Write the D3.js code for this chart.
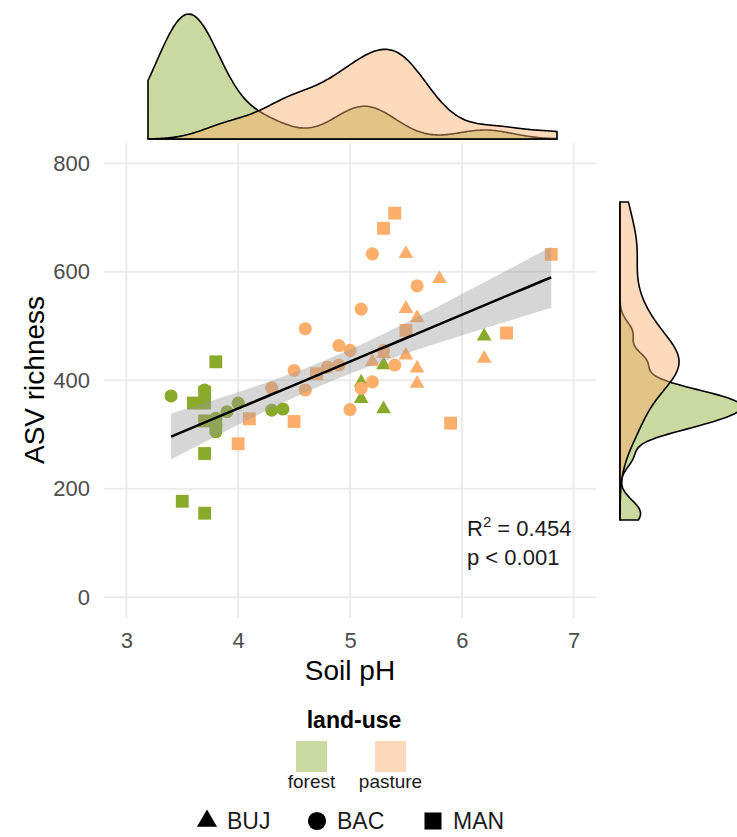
<!DOCTYPE html>
<html>
<head>
<meta charset="utf-8">
<script src="https://cdn.jsdelivr.net/npm/d3@7"></script>
<style>
  body { margin: 0; background: #fff; }
  svg text { font-family: "Liberation Sans", Arial, sans-serif; }
</style>
</head>
<body>
<div id="chart"></div>
<script>
// data: soil pH, ASV richness, land-use, site
var ph = [3.4, 3.8, 3.9, 4.0, 4.3, 4.4, 3.7, 3.8, 3.8,
          5.1, 5.1, 5.3, 5.3, 6.2,
          3.8, 3.6, 3.7, 3.7, 3.7, 3.8, 3.7, 3.5, 3.7,
          4.1, 4.0, 4.5, 4.7, 5.4, 5.3, 6.8, 5.5, 6.4, 5.9,
          4.3, 4.5, 4.6, 4.6, 4.8, 4.9, 4.9, 5.0, 5.0, 5.1, 5.2, 5.6, 5.3, 5.4, 5.2, 5.1,
          5.5, 5.8, 5.5, 5.6, 6.2, 5.2, 5.5, 5.6, 5.6, 5.3];
var richness = [371, 305, 342, 358, 345, 347, 382, 330, 318,
                396, 366, 428, 347, 481,
                434, 358, 378, 358, 325, 320, 265, 177, 155,
                329, 283, 324, 412, 708, 680, 632, 492, 487, 321,
                386, 418, 382, 495, 424, 428, 464, 455, 346, 531, 633, 574, 455, 428, 397, 385,
                633, 587, 532, 515, 440, 434, 446, 422, 394, 449];
var landuse = ["forest","forest","forest","forest","forest","forest","forest","forest","forest",
               "forest","forest","forest","forest","forest",
               "forest","forest","forest","forest","forest","forest","forest","forest","forest",
               "pasture","pasture","pasture","pasture","pasture","pasture","pasture","pasture","pasture","pasture",
               "pasture","pasture","pasture","pasture","pasture","pasture","pasture","pasture","pasture","pasture","pasture","pasture","pasture","pasture","pasture","pasture",
               "pasture","pasture","pasture","pasture","pasture","pasture","pasture","pasture","pasture","pasture"];
var site = ["BAC","BAC","BAC","BAC","BAC","BAC","BAC","BAC","BAC",
            "BUJ","BUJ","BUJ","BUJ","BUJ",
            "MAN","MAN","MAN","MAN","MAN","MAN","MAN","MAN","MAN",
            "MAN","MAN","MAN","MAN","MAN","MAN","MAN","MAN","MAN","MAN",
            "BAC","BAC","BAC","BAC","BAC","BAC","BAC","BAC","BAC","BAC","BAC","BAC","BAC","BAC","BAC","BAC",
            "BUJ","BUJ","BUJ","BUJ","BUJ","BUJ","BUJ","BUJ","BUJ","BUJ"];

var groups = ["forest", "pasture"];
var sites = ["BUJ", "BAC", "MAN"];
var xTicks = [3, 4, 5, 6, 7];
var yTicks = [0, 200, 400, 600, 800];

var pointColor = {forest: "#8aab2a", pasture: "#fdae6b"};
var densFill = {forest: "#8aab2a", pasture: "#fdae6b"};

var width = 737, height = 837;
var svg = d3.select("#chart").append("svg")
    .attr("width", width)
    .attr("height", height);

var points = ph.map(function(d, i){
    return {x: d, y: richness[i], g: landuse[i], s: site[i]};
});

// main panel scales
var x = d3.scaleLinear().domain([2.8, 7.2]).range([104, 596]);
var y = d3.scaleLinear().domain([-40, 840]).range([619, 141.5]);

// grid
svg.append("g").selectAll("line")
   .data(xTicks).join("line")
   .attr("x1", d => x(d)).attr("x2", d => x(d))
   .attr("y1", 143).attr("y2", 618)
   .attr("stroke", "#ebebeb").attr("stroke-width", 2);
svg.append("g").selectAll("line")
   .data(yTicks).join("line")
   .attr("x1", 104).attr("x2", 596)
   .attr("y1", d => y(d)).attr("y2", d => y(d))
   .attr("stroke", "#ebebeb").attr("stroke-width", 2);

// axes, no domain line
var xAxis = svg.append("g")
   .attr("transform", "translate(0,618)")
   .call(d3.axisBottom(x).tickValues(xTicks).tickSize(0).tickPadding(14).tickFormat(d3.format("d")));
var yAxis = svg.append("g")
   .attr("transform", "translate(104,0)")
   .call(d3.axisLeft(y).tickValues(yTicks).tickSize(0).tickPadding(14).tickFormat(d3.format("d")));
[xAxis, yAxis].forEach(function(a){
    a.select(".domain").remove();
    a.selectAll("text")
     .attr("fill", "#4d4d4d")
     .style("font-size", "22px")
     .style("font-family", "'Liberation Sans', Arial, sans-serif");
});

// points
var shape = {BUJ: d3.symbolTriangle, BAC: d3.symbolCircle, MAN: d3.symbolSquare};
var shapeSize = {BUJ: 95, BAC: 135, MAN: 165};
svg.append("g").selectAll("path")
   .data(points).join("path")
   .attr("transform", d => "translate(" + x(d.x) + "," + y(d.y) + ")")
   .attr("d", d => d3.symbol().type(shape[d.s]).size(shapeSize[d.s])())
   .attr("fill", d => pointColor[d.g]);

// linear fit with 95% band
var n = points.length;
var mx = d3.mean(ph), my = d3.mean(richness);
var sxx = d3.sum(ph, d => (d - mx) * (d - mx));
var sxy = d3.sum(points, d => (d.x - mx) * (d.y - my));
var slope = sxy / sxx, icpt = my - slope * mx;
var sse = d3.sum(points, d => Math.pow(d.y - (icpt + slope * d.x), 2));
var sres = Math.sqrt(sse / (n - 2));
var tval = 2.002;
var fitX = d3.range(0, 81).map(i => d3.min(ph) + i * (d3.max(ph) - d3.min(ph)) / 80);
var fit = fitX.map(function(v){
    var yh = icpt + slope * v;
    var se = sres * Math.sqrt(1 / n + (v - mx) * (v - mx) / sxx);
    return {x: v, y: yh, lo: yh - tval * se, hi: yh + tval * se};
});
svg.append("path")
   .datum(fit)
   .attr("d", d3.area().x(d => x(d.x)).y0(d => y(d.lo)).y1(d => y(d.hi)))
   .attr("fill", "#999999").attr("fill-opacity", 0.4);
svg.append("path")
   .datum(fit)
   .attr("d", d3.line().x(d => x(d.x)).y(d => y(d.y)))
   .attr("fill", "none").attr("stroke", "black").attr("stroke-width", 2.5);

// stats text
var stats = svg.append("text").attr("x", 467).attr("y", 536)
   .style("font-size", "22px").attr("fill", "#1a1a1a");
stats.append("tspan").text("R");
stats.append("tspan").text("2").attr("dy", -9).style("font-size", "15px");
stats.append("tspan").text(" = 0.454").attr("dy", 9);
svg.append("text").attr("x", 467).attr("y", 565)
   .style("font-size", "22px").attr("fill", "#1a1a1a")
   .text("p < 0.001");

// axis titles
svg.append("text")
   .attr("transform", "translate(44,380) rotate(-90)")
   .attr("text-anchor", "middle")
   .style("font-size", "28px")
   .text("ASV richness");
svg.append("text")
   .attr("x", 350).attr("y", 680)
   .attr("text-anchor", "middle")
   .style("font-size", "28px")
   .text("Soil pH");

// kernel density (gaussian, bw.nrd0)
function bwNrd0(v){
    var s = d3.deviation(v);
    var sorted = v.slice().sort(d3.ascending);
    var iqr = d3.quantile(sorted, 0.75) - d3.quantile(sorted, 0.25);
    var lo = Math.min(s, iqr / 1.34);
    return 0.9 * lo * Math.pow(v.length, -0.2);
}
function kde(v, grid){
    var bw = bwNrd0(v);
    return grid.map(function(g){
        var s = d3.sum(v, d => Math.exp(-0.5 * Math.pow((g - d) / bw, 2)));
        return [g, s / (v.length * bw * Math.sqrt(2 * Math.PI))];
    });
}

// top marginal: pH
var phExt = d3.extent(ph);
var phGrid = d3.range(0, 201).map(i => phExt[0] + i * (phExt[1] - phExt[0]) / 200);
var topDens = groups.map(g => ({g: g, v: kde(points.filter(p => p.g == g).map(p => p.x), phGrid)}));
var topMax = d3.max(topDens, d => d3.max(d.v, e => e[1]));
var tx = d3.scaleLinear().domain(phExt).range([148, 557]);
var ty = d3.scaleLinear().domain([0, topMax]).range([139, 14]);
svg.append("g").selectAll("path")
   .data(topDens).join("path")
   .attr("d", d => d3.area().x(e => tx(e[0])).y0(139).y1(e => ty(e[1])).curve(d3.curveBasis)(d.v))
   .attr("fill", d => densFill[d.g]).attr("fill-opacity", 0.45)
   .attr("stroke", "black").attr("stroke-width", 1.6).attr("stroke-linejoin", "round");

// right marginal: richness
var rExt = d3.extent(richness);
var rGrid = d3.range(0, 201).map(i => rExt[0] + i * (rExt[1] - rExt[0]) / 200);
var rightDens = groups.map(g => ({g: g, v: kde(points.filter(p => p.g == g).map(p => p.y), rGrid)}));
var rightMax = d3.max(rightDens, d => d3.max(d.v, e => e[1]));
var ry = d3.scaleLinear().domain(rExt).range([520, 202]);
var rx = d3.scaleLinear().domain([0, rightMax]).range([620, 742]);
svg.append("g").selectAll("path")
   .data(rightDens).join("path")
   .attr("d", d => d3.area().y(e => ry(e[0])).x0(620).x1(e => rx(e[1])).curve(d3.curveBasis)(d.v))
   .attr("fill", d => densFill[d.g]).attr("fill-opacity", 0.45)
   .attr("stroke", "black").attr("stroke-width", 1.6).attr("stroke-linejoin", "round");

// legend: land-use
svg.append("text")
   .attr("x", 354).attr("y", 728)
   .attr("text-anchor", "middle")
   .style("font-size", "23px").style("font-weight", "bold")
   .text("land-use");
var lg = svg.append("g").selectAll("g")
   .data(groups).join("g")
   .attr("transform", (d, i) => "translate(" + (296 + i * 79) + ",741)");
lg.append("rect")
   .attr("width", 31).attr("height", 31)
   .attr("fill", d => densFill[d]).attr("fill-opacity", 0.45);
lg.append("text")
   .attr("x", 15.5).attr("y", 47)
   .attr("text-anchor", "middle")
   .style("font-size", "19px").attr("fill", "#1a1a1a")
   .text(d => d);

// legend: site
var legendSize = {BUJ: 175, BAC: 260, MAN: 290};
var sg = svg.append("g").selectAll("g")
   .data(sites).join("g")
   .attr("transform", (d, i) => "translate(" + [207, 317, 433][i] + ",821)");
sg.append("path")
   .attr("d", d => d3.symbol().type(shape[d]).size(legendSize[d])())
   .attr("fill", "black");
sg.append("text")
   .attr("x", 20).attr("y", 8)
   .style("font-size", "23px").attr("fill", "#1a1a1a")
   .text(d => d);
</script>
</body>
</html>
